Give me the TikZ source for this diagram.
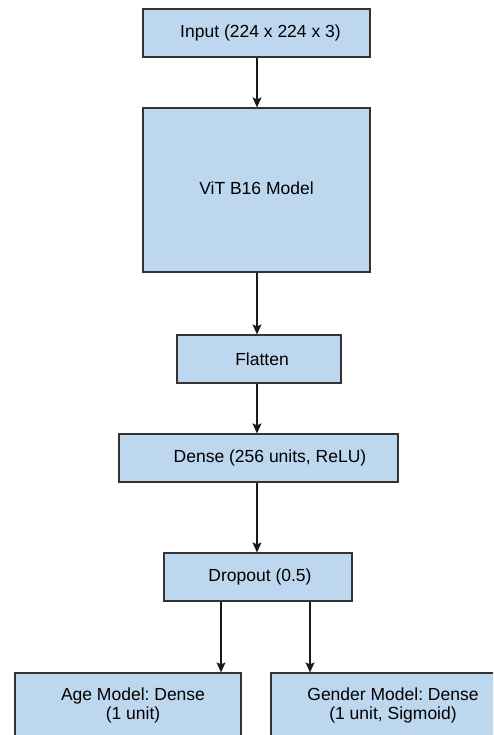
\documentclass[tikz,border=0pt]{standalone}
\usepackage{fontspec}
\setmainfont{Liberation Sans}
\frenchspacing
\usetikzlibrary{arrows.meta}
\definecolor{boxfill}{HTML}{BDD7EE}
\definecolor{boxline}{HTML}{333333}
\definecolor{arrline}{HTML}{1A1A1A}
\begin{document}
\begin{tikzpicture}[x=1pt,y=1pt,
  layerbox/.style={draw=boxline,fill=boxfill,line width=1.2pt,inner sep=0pt,
    font=\fontsize{17.5}{19}\selectfont,align=center,text=black},
  arr/.style={draw=arrline,line width=1.3pt,-{Stealth[length=10pt,width=9pt,inset=2pt]}}]
\useasboundingbox (0,0) rectangle (493,-735);
\clip (0,0) rectangle (493,-735);
\node[layerbox,minimum width=227,minimum height=48] (inp) at (256.5,-33) {\hspace{8pt}Input (224 x 224 x 3)};
\node[layerbox,minimum width=227,minimum height=164] (vit) at (256.5,-190) {\raisebox{3pt}{ViT B16 Model}};
\node[layerbox,minimum width=164,minimum height=48] (flat) at (259,-359) {\hspace{6pt}Flatten};
\node[layerbox,minimum width=279,minimum height=48] (dense) at (258.5,-458) {\hspace{23pt}Dense (256 units, ReLU)};
\node[layerbox,minimum width=188,minimum height=48] (drop) at (258,-577) {\hspace{4pt}Dropout (0.5)};
\node[layerbox,minimum width=226,minimum height=64] (age) at (128,-705) {\hspace{10pt}Age Model: Dense\\\hspace{10pt}(1 unit)};
\node[layerbox,minimum width=244,minimum height=64] (gen) at (393,-705) {Gender Model: Dense\\(1 unit, Sigmoid)};
\coordinate (ax) at (221,0);
\coordinate (gx) at (310,0);
\coordinate (cx) at (257,0);
\draw[arr] (inp.south -| cx) -- (vit.north -| cx);
\draw[arr] (vit.south -| cx) -- (flat.north -| cx);
\draw[arr] (flat.south -| cx) -- (dense.north -| cx);
\draw[arr] (dense.south -| cx) -- (drop.north -| cx);
\draw[arr] (drop.south -| ax) -- (age.north -| ax);
\draw[arr] (drop.south -| gx) -- (gen.north -| gx);
\end{tikzpicture}
\end{document}
